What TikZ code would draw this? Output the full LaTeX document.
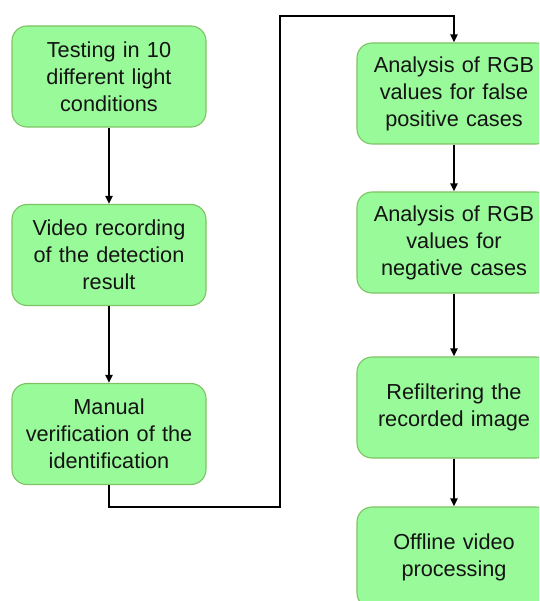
\documentclass[tikz,border=0pt]{standalone}
\usepackage{fontspec}
\setmainfont{Liberation Sans}
\usetikzlibrary{arrows.meta}
\definecolor{boxfill}{RGB}{153,250,153}
\definecolor{boxline}{RGB}{125,195,100}
\definecolor{txt}{RGB}{20,20,20}
\begin{document}
\begin{tikzpicture}[x=1pt,y=-1pt,
  stepbox/.style={draw=boxline, line width=1.1pt, fill=boxfill, rounded corners=15pt,
    minimum width=194pt, minimum height=101pt, text width=192pt, align=center,
    inner sep=0pt, text=txt, font=\fontsize{21.7}{27}\selectfont},
  conn/.style={draw=black, line width=2.5pt, -{Triangle[length=8pt,width=7pt]}}]
\clip (0,0) rectangle (539,601);
\node[stepbox] (b1) at (109,76.5) {Testing in 10\\different light\\conditions};
\node[stepbox] (b2) at (109,255) {Video recording\\of the detection\\result};
\node[stepbox] (b3) at (109,434) {Manual\\verification of the\\identification};
\node[stepbox] (ra) at (454,93.5) {Analysis of RGB\\values for false\\positive cases};
\node[stepbox] (rb) at (454,242.5) {Analysis of RGB\\values for\\negative cases};
\node[stepbox] (rc) at (454,407.5) {Refiltering the\\recorded image};
\node[stepbox] (rd) at (454,557.5) {Offline video\\processing};
\coordinate (t1) at (280,507);
\coordinate (t2) at (280,16);
\draw[conn] (b1.south) -- (b2.north);
\draw[conn] (b2.south) -- (b3.north);
\draw[conn] (b3.south) |- (t1) -- (t2) -| (ra.north);
\draw[conn] (ra.south) -- (rb.north);
\draw[conn] (rb.south) -- (rc.north);
\draw[conn] (rc.south) -- (rd.north);
\end{tikzpicture}
\end{document}
